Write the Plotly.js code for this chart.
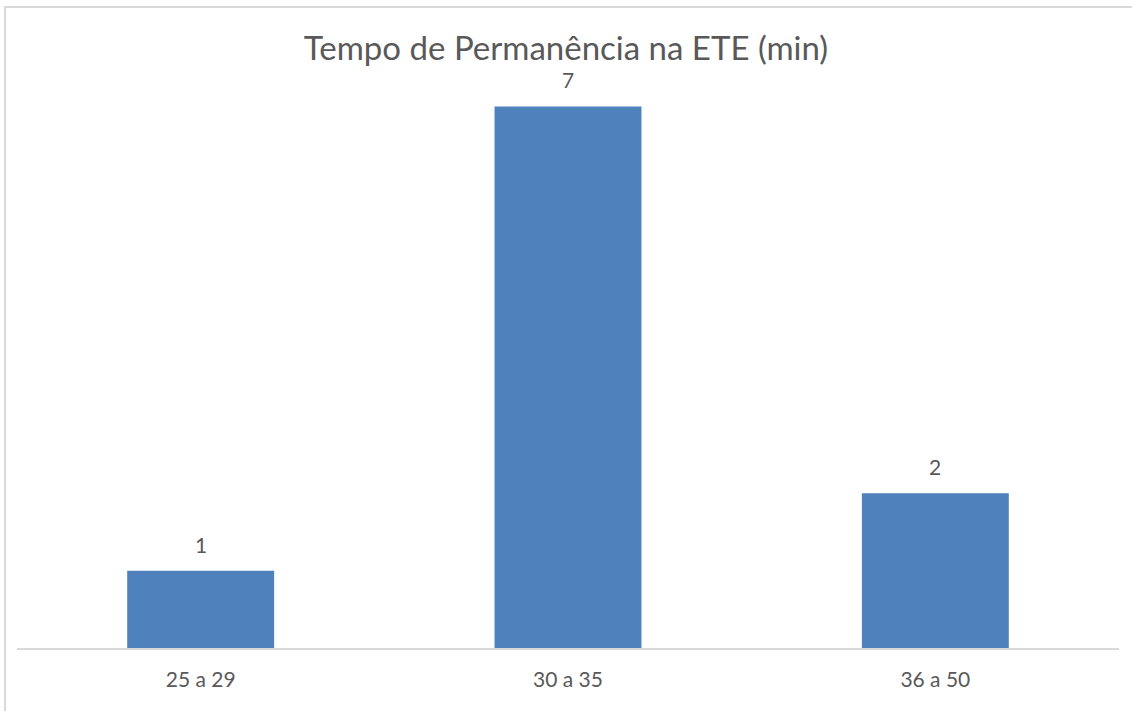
<!DOCTYPE html>
<html>
<head>
<meta charset="utf-8">
<script src="https://cdn.plot.ly/plotly-3.0.1.min.js"></script>
<style>
html,body{margin:0;padding:0;background:#fff;}
#wrap{position:relative;width:1132px;height:711px;overflow:hidden;}
#chart{position:absolute;left:0;top:0;width:1132px;height:711px;}
#frame{position:absolute;left:4px;top:6px;width:1140px;height:720px;border:2px solid #d9d9d9;pointer-events:none;box-sizing:border-box;}
</style>
</head>
<body>
<div id="wrap"><div id="chart"></div><div id="frame"></div></div>
<script>
const categories = ["25 a 29", "30 a 35", "36 a 50"];
const counts = [1, 7, 2];
const chartTitle = "Tempo de Permanência na ETE (min)";

const font = "Lato, 'Open Sans', sans-serif";
const trace = {
  type: "bar",
  x: categories,
  y: counts,
  marker: {color: "#4f81bd", line: {width: 0}},
  hoverinfo: "x+y"
};
const labels = categories.map((c, i) => ({
  x: c, y: counts[i], xref: "x", yref: "y",
  text: String(counts[i]), showarrow: false,
  yanchor: "bottom", yshift: 12,
  font: {family: font, size: 21, color: "#595959"}
}));
const layout = {
  width: 1132, height: 711,
  margin: {l: 17, r: 13, t: 60, b: 63, pad: 0},
  paper_bgcolor: "rgba(0,0,0,0)",
  plot_bgcolor: "rgba(0,0,0,0)",
  bargap: 0.6,
  showlegend: false,
  annotations: labels,
  title: {text: chartTitle, x: 0.5, xanchor: "center", y: 0.932, yanchor: "middle",
          font: {family: font, size: 33, color: "#595959"}},
  xaxis: {type: "category", showline: true, linecolor: "#d9d9d9", linewidth: 2,
          ticks: "outside", ticklen: 12, tickcolor: "rgba(0,0,0,0)", showgrid: false, zeroline: false,
          tickfont: {family: font, size: 21, color: "#595959"}},
  yaxis: {range: [0, 7.6], visible: false, showgrid: false, zeroline: false}
};
Plotly.newPlot("chart", [trace], layout, {displayModeBar: false, staticPlot: true});
</script>
</body>
</html>
